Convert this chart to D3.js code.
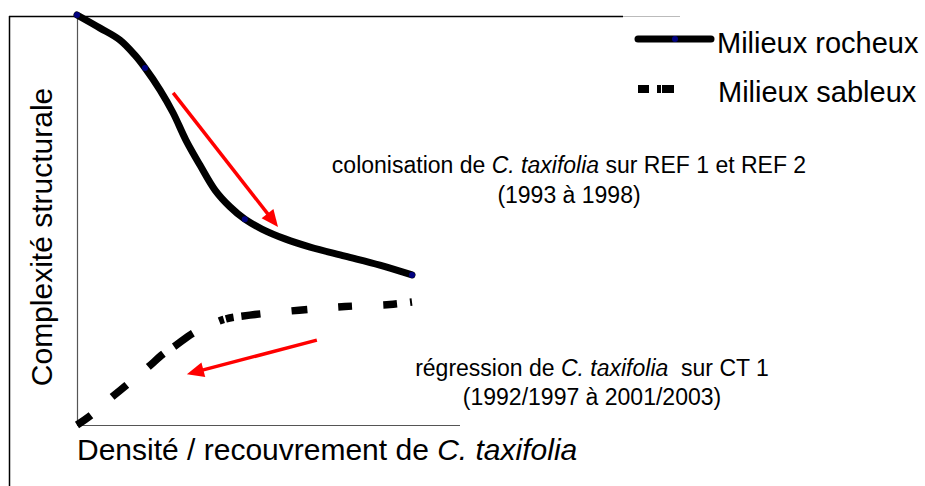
<!DOCTYPE html>
<html>
<head>
<meta charset="utf-8">
<script src="https://cdn.jsdelivr.net/npm/d3@7"></script>
<style>
  html, body { margin: 0; padding: 0; background: #fff; }
  svg { display: block; font-family: "Liberation Sans", Arial, sans-serif; }
</style>
</head>
<body>
<svg id="chart" width="925" height="486"></svg>
<script>
// ---- data (abstract units 0..100) ----
const rocheuxX = [0, 6.9, 12.8, 17.3, 20.3, 24.8, 28.7, 32.5, 36.7, 41.2, 45.7, 50.1, 55.2, 62.1, 69.6, 80.0, 90.4, 100];
const rocheuxY = [100, 96.8, 93.9, 90.2, 87.1, 81.7, 76.1, 69.5, 63.4, 57.3, 53.2, 50.2, 47.8, 45.4, 43.4, 41.2, 39.0, 36.6];
const rocheuxMarkers = [0, 4, 11, 17];
const sableuxX = [0, 4.2, 10.4, 14.9, 21.2, 25.7, 29.3, 34.6, 39.7, 44.5, 51.6, 66.3, 80.0, 93.4, 100];
const sableuxY = [0, 2.4, 6.8, 9.8, 14.1, 17.3, 19.3, 22.4, 24.4, 25.9, 26.8, 28.0, 28.9, 29.4, 30.0];
const seriesNames = ["Milieux rocheux", "Milieux sableux"];
const axisTitleX = ["Densité / recouvrement de ", "C. taxifolia"];
const axisTitleY = "Complexité structurale";
const annot1 = [["colonisation de ", "C. taxifolia", " sur REF 1 et REF 2"], ["(1993 à 1998)"]];
const annot2 = [["régression de ", "C. taxifolia", "  sur CT 1"], ["(1992/1997 à 2001/2003)"]];
const arrow1 = [[28.7, 81.0], [60.0, 48.3]];
const arrow2 = [[71.6, 20.7], [32.8, 12.4]];

// ---- layout ----
const svg = d3.select("#chart");
const x = d3.scaleLinear().domain([0, 100]).range([77, 412]);
const y = d3.scaleLinear().domain([0, 100]).range([425, 15]);

svg.append("rect").attr("width", 925).attr("height", 486).attr("fill", "#fff");

// frame lines
svg.append("line").attr("x1", 9.5).attr("x2", 9.5).attr("y1", 16).attr("y2", 486)
  .attr("stroke", "#000").attr("stroke-width", 1.5);
svg.append("line").attr("x1", 9).attr("x2", 623).attr("y1", 16.5).attr("y2", 16.5)
  .attr("stroke", "#000").attr("stroke-width", 1.5);
svg.append("line").attr("x1", 623).attr("x2", 680).attr("y1", 16.5).attr("y2", 16.5)
  .attr("stroke", "#bbb").attr("stroke-width", 1);

// axes
const xAxis = d3.axisBottom(x).tickValues([]).tickSizeOuter(0);
const yAxis = d3.axisLeft(y).tickValues([]).tickSizeOuter(0);
const gx = svg.append("g").attr("transform", `translate(0,${y(0) + 0.5})`).call(xAxis);
gx.select(".domain").attr("stroke", "#555").attr("stroke-width", 1.2).attr("d", `M${x(0)},0H${x(100) + 48}`);
const gy = svg.append("g").attr("transform", `translate(${x(0) + 0.5},0)`).call(yAxis);
gy.select(".domain").attr("stroke", "#555").attr("stroke-width", 1.2).attr("d", `M0,${y(100) + 1}V${y(0)}`);

// lines
const line = d3.line().x(d => x(d[0])).y(d => y(d[1])).curve(d3.curveCatmullRom.alpha(0.5));
const rData = rocheuxX.map((v, i) => [v, rocheuxY[i]]);
const sData = sableuxX.map((v, i) => [v, sableuxY[i]]);

svg.append("path").attr("d", line(sData)).attr("fill", "none").attr("stroke", "#000")
  .attr("stroke-width", 7.5)
  .attr("stroke-dasharray", "17,28,19,28,20,13,23,29,5,2,8,8,19,31,16,31,14,31,14,13,6,40")
  .attr("stroke-linecap", "butt");
svg.append("path").attr("d", line(rData)).attr("fill", "none").attr("stroke", "#000")
  .attr("stroke-width", 7).attr("stroke-linejoin", "round").attr("stroke-linecap", "round");
svg.selectAll("circle.mk").data(rocheuxMarkers.map(i => rData[i])).enter().append("circle")
  .attr("class", "mk").attr("cx", d => x(d[0])).attr("cy", d => y(d[1])).attr("r", 3)
  .attr("fill", "#000080");

// arrows
function arrow(a) {
  const [p0, p1] = a;
  const x0 = x(p0[0]), y0 = y(p0[1]), x1 = x(p1[0]), y1 = y(p1[1]);
  const ang = Math.atan2(y1 - y0, x1 - x0);
  const L = 17, W = 7.5;
  const bx = x1 - L * Math.cos(ang), by = y1 - L * Math.sin(ang);
  svg.append("line").attr("x1", x0).attr("y1", y0).attr("x2", bx + 2 * Math.cos(ang)).attr("y2", by + 2 * Math.sin(ang))
    .attr("stroke", "#ff0000").attr("stroke-width", 3.5);
  const px = -Math.sin(ang), py = Math.cos(ang);
  svg.append("polygon").attr("points",
    `${x1},${y1} ${bx + W * px},${by + W * py} ${bx - W * px},${by - W * py}`)
    .attr("fill", "#ff0000");
}
arrow(arrow1);
arrow(arrow2);

// annotations
function annot(lines, cx, baselines, size) {
  lines.forEach((parts, li) => {
    const t = svg.append("text").attr("x", cx).attr("y", baselines[li]).attr("text-anchor", "middle")
      .attr("font-size", size).attr("fill", "#000");
    parts.forEach((p, pi) => {
      t.append("tspan").text(p).attr("font-style", (parts.length > 1 && pi === 1) ? "italic" : "normal")
        .style("white-space", "pre");
    });
  });
}
annot(annot1, 569, [173, 203], 23);
annot(annot2, 592, [376, 405], 23);

// axis titles
const tx = svg.append("text").attr("x", 77).attr("y", 460).attr("font-size", 30).attr("fill", "#000");
tx.append("tspan").text(axisTitleX[0]);
tx.append("tspan").text(axisTitleX[1]).attr("font-style", "italic");
svg.append("text").attr("transform", "translate(52,237) rotate(-90)").attr("text-anchor", "middle")
  .attr("font-size", 30).attr("fill", "#000").text(axisTitleY);

// legend
const lg = svg.append("g");
lg.append("line").attr("x1", 638).attr("x2", 711).attr("y1", 39).attr("y2", 39)
  .attr("stroke", "#000").attr("stroke-width", 7).attr("stroke-linecap", "round");
lg.append("circle").attr("cx", 675).attr("cy", 39).attr("r", 3).attr("fill", "#000080");
lg.append("text").attr("x", 717).attr("y", 53).attr("font-size", 29).text(seriesNames[0]);
lg.append("line").attr("x1", 638).attr("x2", 674).attr("y1", 89).attr("y2", 89)
  .attr("stroke", "#000").attr("stroke-width", 8).attr("stroke-dasharray", "11,8,4,1,12");
lg.append("text").attr("x", 718).attr("y", 102).attr("font-size", 29).text(seriesNames[1]);
</script>
</body>
</html>
